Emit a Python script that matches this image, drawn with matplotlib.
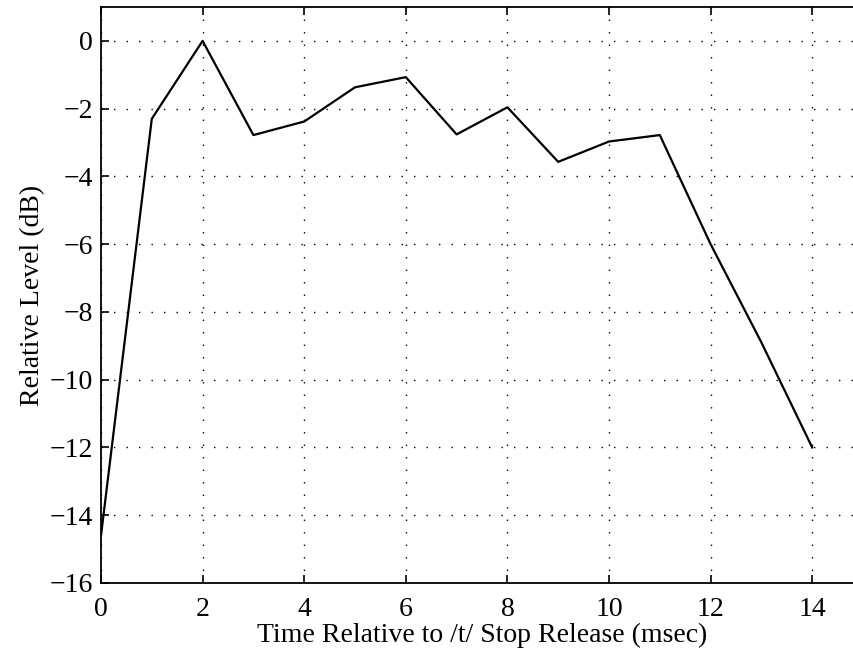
import numpy as np
import matplotlib
matplotlib.use('Agg')
import matplotlib.pyplot as plt

# time after /t/ release (msec) and relative level (dB)
time_ms = [0, 1, 2, 3, 4, 5, 6, 7, 8, 9, 10, 11, 12, 13, 14]
level_db = [-14.6, -2.3, 0.0, -2.78, -2.38, -1.37, -1.07, -2.76, -1.96,
            -3.57, -2.97, -2.78, -6.0, -8.9, -12.0]

xticks = [0, 2, 4, 6, 8, 10, 12, 14]
yticks = [0, -2, -4, -6, -8, -10, -12, -14, -16]

plt.rcParams['font.family'] = ['Liberation Serif', 'DejaVu Serif']

fig = plt.figure(figsize=(8.54, 6.55), dpi=100)
# axes run to x=15, which falls just past the right edge of the picture
ax = fig.add_axes([101/854, 1 - 583/655, 762/854, 576/655])

ax.plot(time_ms, level_db, color='black', lw=1.6)

ax.set_xlim(0, 15)
ax.set_ylim(-16, 1)
ax.set_xticks(xticks)
ax.set_yticks(yticks)
ax.set_yticklabels(['0' if t == 0 else '\u2212%d' % abs(t) for t in yticks])

ax.grid(True, color='black', linestyle=(0, (1, 8)), linewidth=1.0)
ax.tick_params(direction='in', length=6, width=1.2, labelsize=20,
               top=True, right=True)
ax.tick_params(axis='x', pad=10)
ax.tick_params(axis='y', pad=6)
for s in ax.spines.values():
    s.set_linewidth(1.3)

ax.set_xlabel('Time Relative to /t/ Stop Release (msec)', fontsize=20, labelpad=1)
ax.set_ylabel('Relative Level (dB)', fontsize=20, labelpad=3)

fig.savefig('out.png', dpi=100)
